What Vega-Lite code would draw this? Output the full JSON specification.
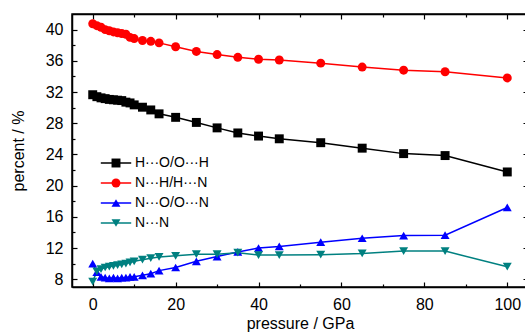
{
  "$schema": "https://vega.github.io/schema/vega-lite/v6.json",
  "width": 456,
  "height": 273,
  "autosize": {"type": "none"},
  "padding": {"left": 72, "top": 14, "right": 0, "bottom": 48},
  "background": "white",
  "config": {
    "font": "Liberation Sans",
    "view": {"stroke": "black", "strokeWidth": 1.5},
    "axis": {
      "domainColor": "black", "domainWidth": 1.5, "tickColor": "black", "tickWidth": 1.2,
      "labelFont": "Liberation Sans", "labelFontSize": 16, "labelColor": "black",
      "titleFont": "Liberation Sans", "titleFontSize": 16, "titleFontWeight": "normal", "titleColor": "black",
      "grid": false
    },
    "legend": {
      "orient": "none", "legendX": 37, "legendY": 142, "padding": 0,
      "labelFont": "Liberation Sans", "labelFontSize": 14, "labelColor": "black",
      "symbolSize": 80, "labelOffset": 12, "rowPadding": 6, "title": null
    }
  },
  "data": {"values": [
    {"p":0,"s":"H···O/O···H","v":31.65},{"p":1,"s":"H···O/O···H","v":31.4},{"p":2,"s":"H···O/O···H","v":31.25},{"p":3,"s":"H···O/O···H","v":31.15},{"p":4,"s":"H···O/O···H","v":31.05},{"p":5,"s":"H···O/O···H","v":31.0},{"p":6,"s":"H···O/O···H","v":30.95},{"p":7,"s":"H···O/O···H","v":30.9},{"p":8,"s":"H···O/O···H","v":30.7},{"p":9,"s":"H···O/O···H","v":30.6},{"p":10,"s":"H···O/O···H","v":30.35},{"p":12,"s":"H···O/O···H","v":30.05},{"p":14,"s":"H···O/O···H","v":29.7},{"p":16,"s":"H···O/O···H","v":29.2},{"p":20,"s":"H···O/O···H","v":28.75},{"p":25,"s":"H···O/O···H","v":28.1},{"p":30,"s":"H···O/O···H","v":27.4},{"p":35,"s":"H···O/O···H","v":26.75},{"p":40,"s":"H···O/O···H","v":26.35},{"p":45,"s":"H···O/O···H","v":26.0},{"p":55,"s":"H···O/O···H","v":25.5},{"p":65,"s":"H···O/O···H","v":24.8},{"p":75,"s":"H···O/O···H","v":24.1},{"p":85,"s":"H···O/O···H","v":23.85},{"p":100,"s":"H···O/O···H","v":21.75},
    {"p":0,"s":"N···H/H···N","v":40.75},{"p":1,"s":"N···H/H···N","v":40.5},{"p":2,"s":"N···H/H···N","v":40.3},{"p":3,"s":"N···H/H···N","v":40.0},{"p":4,"s":"N···H/H···N","v":39.85},{"p":5,"s":"N···H/H···N","v":39.7},{"p":6,"s":"N···H/H···N","v":39.6},{"p":7,"s":"N···H/H···N","v":39.5},{"p":8,"s":"N···H/H···N","v":39.4},{"p":9,"s":"N···H/H···N","v":39.0},{"p":10,"s":"N···H/H···N","v":38.85},{"p":12,"s":"N···H/H···N","v":38.6},{"p":14,"s":"N···H/H···N","v":38.5},{"p":16,"s":"N···H/H···N","v":38.3},{"p":20,"s":"N···H/H···N","v":37.8},{"p":25,"s":"N···H/H···N","v":37.2},{"p":30,"s":"N···H/H···N","v":36.8},{"p":35,"s":"N···H/H···N","v":36.45},{"p":40,"s":"N···H/H···N","v":36.2},{"p":45,"s":"N···H/H···N","v":36.1},{"p":55,"s":"N···H/H···N","v":35.7},{"p":65,"s":"N···H/H···N","v":35.2},{"p":75,"s":"N···H/H···N","v":34.8},{"p":85,"s":"N···H/H···N","v":34.6},{"p":100,"s":"N···H/H···N","v":33.8},
    {"p":0,"s":"N···O/O···N","v":10.0},{"p":1,"s":"N···O/O···N","v":8.9},{"p":2,"s":"N···O/O···N","v":8.3},{"p":3,"s":"N···O/O···N","v":8.2},{"p":4,"s":"N···O/O···N","v":8.1},{"p":5,"s":"N···O/O···N","v":8.2},{"p":6,"s":"N···O/O···N","v":8.1},{"p":7,"s":"N···O/O···N","v":8.2},{"p":8,"s":"N···O/O···N","v":8.2},{"p":9,"s":"N···O/O···N","v":8.3},{"p":10,"s":"N···O/O···N","v":8.3},{"p":12,"s":"N···O/O···N","v":8.5},{"p":14,"s":"N···O/O···N","v":8.7},{"p":16,"s":"N···O/O···N","v":9.1},{"p":20,"s":"N···O/O···N","v":9.5},{"p":25,"s":"N···O/O···N","v":10.3},{"p":30,"s":"N···O/O···N","v":10.9},{"p":35,"s":"N···O/O···N","v":11.5},{"p":40,"s":"N···O/O···N","v":12.0},{"p":45,"s":"N···O/O···N","v":12.2},{"p":55,"s":"N···O/O···N","v":12.75},{"p":65,"s":"N···O/O···N","v":13.25},{"p":75,"s":"N···O/O···N","v":13.6},{"p":85,"s":"N···O/O···N","v":13.65},{"p":100,"s":"N···O/O···N","v":17.2},
    {"p":0,"s":"N···N","v":7.7},{"p":1,"s":"N···N","v":9.0},{"p":2,"s":"N···N","v":9.3},{"p":3,"s":"N···N","v":9.5},{"p":4,"s":"N···N","v":9.6},{"p":5,"s":"N···N","v":9.7},{"p":6,"s":"N···N","v":9.8},{"p":7,"s":"N···N","v":9.9},{"p":8,"s":"N···N","v":10.0},{"p":9,"s":"N···N","v":10.15},{"p":10,"s":"N···N","v":10.3},{"p":12,"s":"N···N","v":10.5},{"p":14,"s":"N···N","v":10.7},{"p":16,"s":"N···N","v":10.85},{"p":20,"s":"N···N","v":11.0},{"p":25,"s":"N···N","v":11.2},{"p":30,"s":"N···N","v":11.2},{"p":35,"s":"N···N","v":11.4},{"p":40,"s":"N···N","v":11.1},{"p":45,"s":"N···N","v":11.1},{"p":55,"s":"N···N","v":11.15},{"p":65,"s":"N···N","v":11.3},{"p":75,"s":"N···N","v":11.6},{"p":85,"s":"N···N","v":11.6},{"p":100,"s":"N···N","v":9.6}
  ]},
  "resolve": {"axis": {"x": "independent", "y": "independent"}, "legend": {"color": "independent", "shape": "independent"}},
  "layer": [
    {
      "mark": {"type": "line", "strokeWidth": 1.5},
      "encoding": {
        "x": {"field": "p", "type": "quantitative", "scale": {"domain": [-5, 105], "nice": false, "zero": false},
              "axis": {"orient": "bottom", "values": [0, 20, 40, 60, 80, 100], "tickSize": -5, "labelPadding": 14, "title": "pressure / GPa", "titlePadding": 3}},
        "y": {"field": "v", "type": "quantitative", "scale": {"domain": [7, 42], "nice": false, "zero": false},
              "axis": {"orient": "left", "values": [8, 12, 16, 20, 24, 28, 32, 36, 40], "tickSize": -5, "labelPadding": 14, "title": "percent / %", "titlePadding": 19}},
        "color": {"field": "s", "type": "nominal",
                  "scale": {"domain": ["H···O/O···H", "N···H/H···N", "N···O/O···N", "N···N"], "range": ["#000000", "#ff0000", "#0000ff", "#008080"]},
                  "legend": {"symbolType": "M-3.4,0H3.4", "symbolStrokeWidth": 1.5, "labelOpacity": 0, "labelColor": "transparent"}},
        "detail": {"field": "s"}
      }
    },
    {
      "mark": {"type": "point", "filled": true, "opacity": 1, "size": 80},
      "encoding": {
        "x": {"field": "p", "type": "quantitative",
              "axis": {"orient": "bottom", "values": [10, 30, 50, 70, 90], "tickSize": -3, "labels": false, "domain": false, "title": null}},
        "y": {"field": "v", "type": "quantitative",
              "axis": {"orient": "left", "values": [10, 14, 18, 22, 26, 30, 34, 38], "tickSize": -3, "labels": false, "domain": false, "title": null}},
        "color": {"field": "s", "type": "nominal"},
        "shape": {"field": "s", "type": "nominal",
                  "scale": {"domain": ["H···O/O···H", "N···H/H···N", "N···O/O···N", "N···N"], "range": ["square", "circle", "triangle-up", "triangle-down"]}}
      }
    },
    {
      "mark": {"type": "point", "opacity": 0},
      "encoding": {
        "x": {"field": "p", "type": "quantitative",
              "axis": {"orient": "top", "values": [0, 20, 40, 60, 80, 100], "tickSize": -5, "labels": false, "title": null}},
        "y": {"field": "v", "type": "quantitative",
              "axis": {"orient": "right", "values": [8, 12, 16, 20, 24, 28, 32, 36, 40], "tickSize": -5, "labels": false, "title": null}}
      }
    },
    {
      "mark": {"type": "point", "opacity": 0},
      "encoding": {
        "x": {"field": "p", "type": "quantitative",
              "axis": {"orient": "top", "values": [10, 30, 50, 70, 90], "tickSize": -3, "labels": false, "domain": false, "title": null}},
        "y": {"field": "v", "type": "quantitative",
              "axis": {"orient": "right", "values": [10, 14, 18, 22, 26, 30, 34, 38], "tickSize": -3, "labels": false, "domain": false, "title": null}}
      }
    }
  ]
}
